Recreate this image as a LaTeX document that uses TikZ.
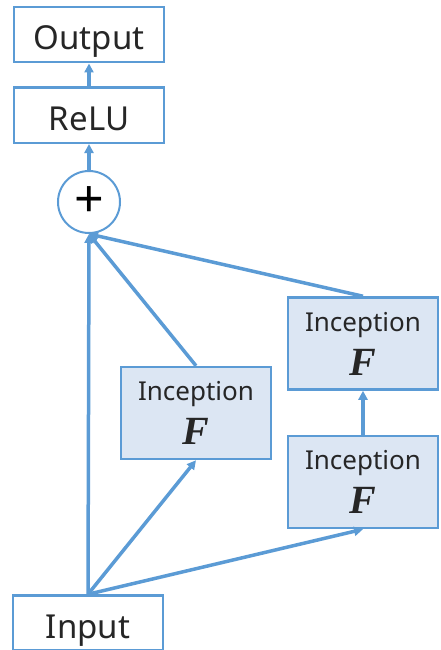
\documentclass[tikz,border=0pt]{standalone}
\usepackage{fontspec}
\setmainfont{Noto Sans}
\newfontfamily\serifF{Liberation Serif}
\usetikzlibrary{positioning,arrows.meta}
\definecolor{lineblue}{RGB}{91,155,213}
\definecolor{fillblue}{RGB}{220,230,243}
\newcommand{\bigF}{{\serifF\itshape\bfseries\fontsize{40}{44}\selectfont F}}
\begin{document}
\begin{tikzpicture}[x=1pt,y=-1pt,->,>={Triangle[length=9pt,width=9pt]},
            every edge/.style={draw=lineblue,line width=3.5pt},
            main node/.style={draw=lineblue,line width=2.5pt,minimum width=150pt,
              minimum height=55pt,inner sep=0pt,text=black!85,text height=30pt,
              text depth=0pt,font=\fontsize{33}{36}\selectfont},
            incep node/.style={draw=lineblue,line width=2.5pt,minimum width=150pt,
              fill=fillblue,minimum height=92pt,inner sep=0pt,text=black!85,align=center,
              font=\fontsize{26}{44}\selectfont},
            sum node/.style={circle,draw=lineblue,line width=2pt,minimum size=62pt,
              inner sep=0pt,font=\fontsize{52}{52}\selectfont}]

        \useasboundingbox (0,0) rectangle (440,650);

        % Define vertices
        \node[main node] (input) at (88,623) {Input};
        \node[sum node] (sum) at (89,202) {+};
        \node[main node] (relu) [above=26pt of sum] {ReLU};
        \node[main node] (output) [above=23pt of relu] {Output};
        \node[incep node] (inc1) at (196,413) {Inception\\\bigF};
        \node[incep node] (inc3) at (363,482) {Inception\\\bigF};
        \node[incep node] (inc2) [above=44pt of inc3] {Inception\\\bigF};

        % Draw edges
        \path
            (input.north) edge (sum.south)
            (input.north) edge (inc1.south)
            (input.north) edge (inc3.south)
            (inc3) edge (inc2)
            (inc1.north) edge (sum.south)
            (inc2.north) edge (sum.south)
            (sum) edge (relu)
            (relu) edge (output);

\end{tikzpicture}
\end{document}
